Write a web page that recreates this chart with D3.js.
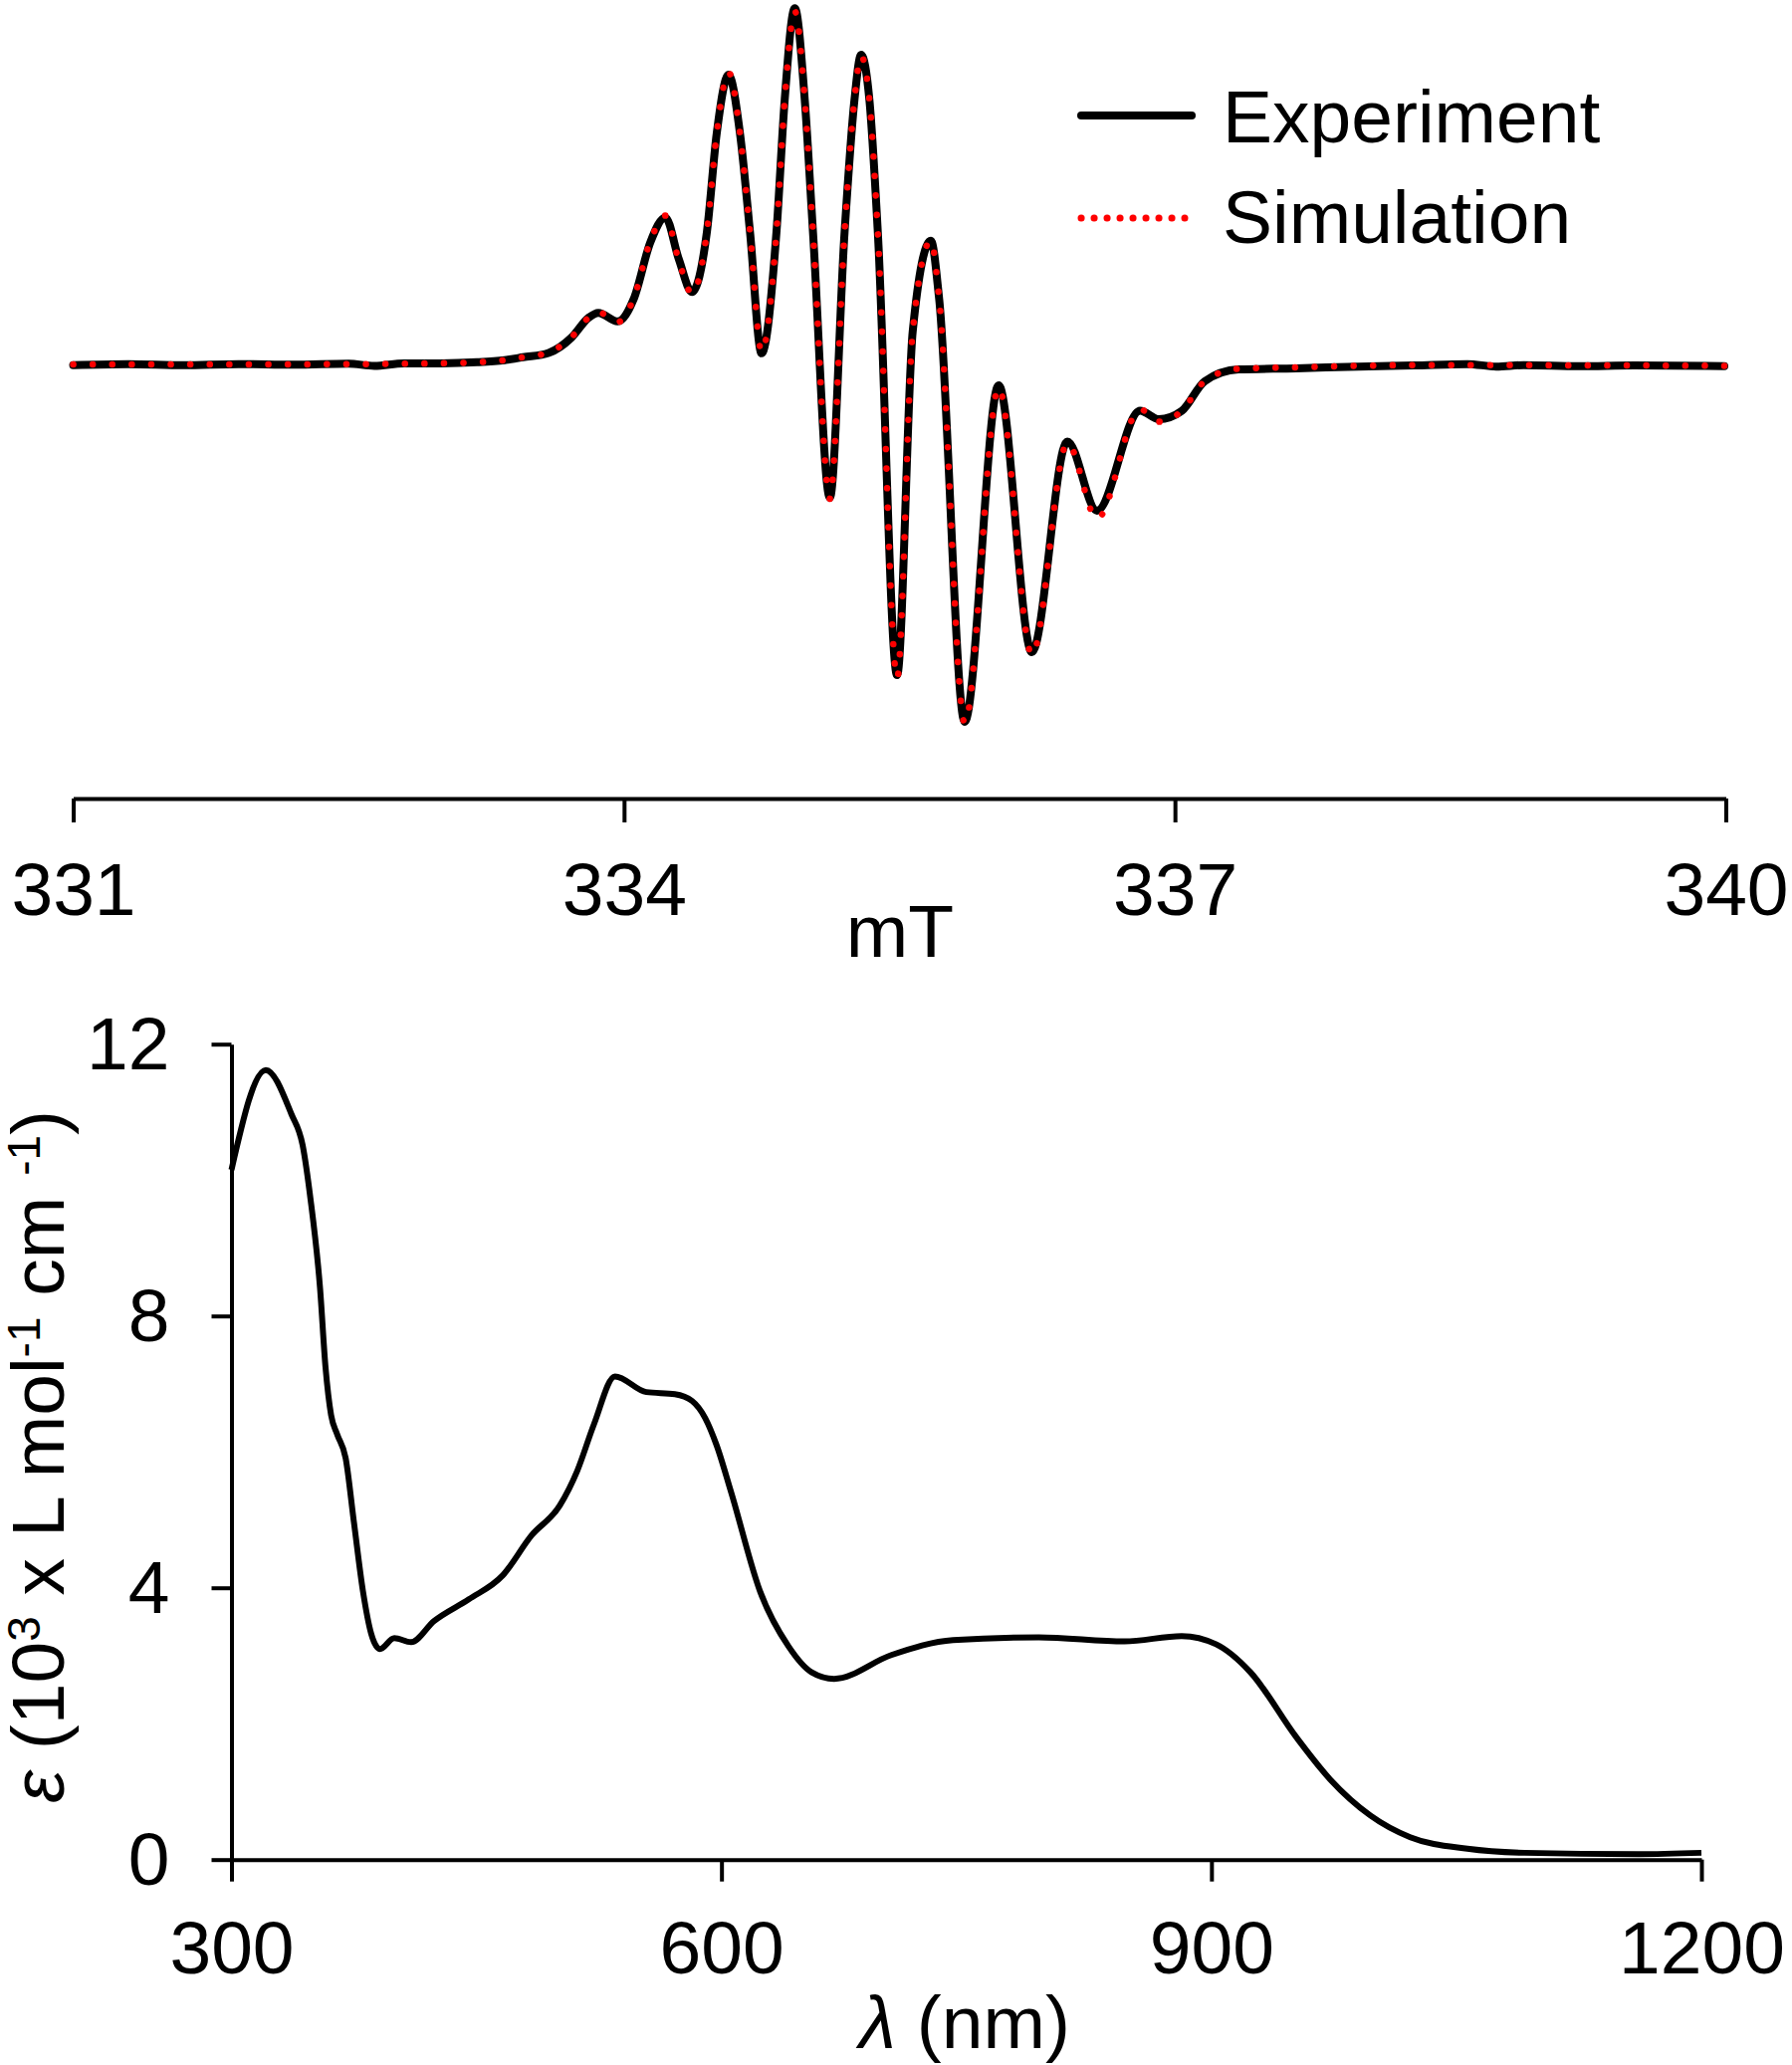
<!DOCTYPE html>
<html>
<head>
<meta charset="utf-8">
<script src="https://cdn.jsdelivr.net/npm/d3@7"></script>
<style>
  html, body { margin: 0; padding: 0; background: #fff; }
  svg { display: block; }
  text { font-family: "Liberation Sans", Arial, sans-serif; fill: #000; }
</style>
</head>
<body>
<svg id="chart" width="1800" height="2074"></svg>
<script>
// ---------- EPR data (mT, derivative signal, arbitrary units) ----------
const eprField = [331.00, 331.30, 331.60, 331.90, 332.20, 332.50, 332.64, 332.80, 333.00, 333.20,
  333.35, 333.45, 333.589, 333.714, 333.806, 333.860, 333.965, 334.053, 334.144, 334.225,
  334.298, 334.370, 334.451, 334.505, 334.569, 334.631, 334.686, 334.749, 334.830, 334.875,
  334.930, 334.984, 335.029, 335.121, 335.201, 335.255, 335.291, 335.336, 335.382, 335.487,
  335.572, 335.671, 335.716, 335.855, 336.040, 336.221, 336.414, 336.576, 336.810, 336.913,
  337.037, 337.162, 337.346, 337.661, 338.000, 338.300, 338.593, 338.750, 338.900, 339.200,
  339.500, 339.992];
const eprExperiment = [-0.2, 0.1, -0.2, 0.1, -0.1, 0.2, -0.4, 0.3, 0.3, 0.6,
  1.2, 2.0, 3.2, 7.5, 13.0, 14.4, 12.0, 18.3, 34.2, 41.0,
  29.4, 20.2, 36.9, 64.6, 80.8, 64.6, 36.9, 3.1, 36.9, 73.9,
  99.4, 73.9, 36.9, -37.2, 36.9, 73.9, 86.4, 73.9, 36.9, -86.7,
  9.2, 34.5, 18.3, -99.7, -5.8, -80.3, -21.5, -40.8, -12.9, -15.3,
  -13.0, -4.7, -1.4, -1.1, -0.6, -0.3, 0.1, -0.6, -0.2, -0.5,
  -0.3, -0.5];
const eprSimulation = [0.0, 0.0, 0.0, 0.0, 0.0, 0.1, 0.1, 0.2, 0.3, 0.6,
  1.2, 2.0, 3.3, 7.6, 13.0, 14.6, 11.8, 18.5, 34.5, 41.5,
  29.0, 19.8, 37.0, 64.6, 81.5, 64.6, 36.9, 3.5, 36.9, 73.9,
  98.5, 73.9, 36.9, -37.5, 36.9, 73.9, 86.0, 73.9, 36.9, -87.5,
  9.2, 34.5, 18.3, -100.0, -6.5, -81.0, -22.0, -43.0, -12.5, -16.0,
  -13.0, -4.7, -1.2, -0.8, -0.4, -0.2, -0.2, -0.2, -0.2, -0.3,
  -0.3, -0.4];
const eprTicks = [331, 334, 337, 340];
const eprSeries = ["Experiment", "Simulation"];

// ---------- UV-vis data ----------
const uvWavelength = [300, 321, 336.7, 343.6, 348.4, 354.2, 357.6, 361, 364.7, 369.9,
  375, 380.5, 385.6, 390.9, 399.7, 410, 424, 445.3, 466, 483.7,
  501, 511.7, 522, 534.8, 554, 571.5, 582, 590, 597, 606,
  623.6, 641, 655, 669, 704, 741.8, 794.3, 846.8, 881.8, 902.8,
  923.8, 951.7, 972.7, 997.3, 1021.7, 1056.7, 1091.7, 1161.6, 1200];
const uvEpsilon = [10.15, 11.62, 10.97, 10.51, 9.72, 8.42, 7.24, 6.54, 6.26, 5.91,
  4.96, 3.95, 3.32, 3.10, 3.26, 3.20, 3.51, 3.83, 4.18, 4.77,
  5.21, 5.72, 6.41, 7.11, 6.88, 6.85, 6.75, 6.50, 6.10, 5.40,
  3.95, 3.14, 2.76, 2.66, 3.01, 3.23, 3.27, 3.21, 3.29, 3.17,
  2.76, 1.81, 1.18, 0.65, 0.33, 0.16, 0.10, 0.08, 0.10];
const uvXTicks = [300, 600, 900, 1200];
const uvYTicks = [0, 4, 8, 12];

const svg = d3.select("#chart");
const FONT = 75;

// ================= Top chart: EPR =================
const xE = d3.scaleLinear().domain([331, 340]).range([73.5, 1733.5]);
const yE = d3.scaleLinear().domain([-100, 100]).range([726, 6]);
const lineE = d3.line().x(d => xE(d[0])).y(d => yE(d[1])).curve(d3.curveMonotoneX);

const expData = eprField.map((f, i) => [f, eprExperiment[i]]);
const simData = eprField.map((f, i) => [f, eprSimulation[i]]);

svg.append("path").datum(expData).attr("d", lineE)
  .attr("fill", "none").attr("stroke", "#000").attr("stroke-width", 8)
  .attr("stroke-linejoin", "round").attr("stroke-linecap", "round");
svg.append("path").datum(simData).attr("d", lineE)
  .attr("fill", "none").attr("stroke", "#ff0000").attr("stroke-width", 6.5)
  .attr("stroke-dasharray", "0.1 19.5").attr("stroke-linecap", "round");

const axE = svg.append("g").attr("transform", "translate(0,802)")
  .call(d3.axisBottom(xE).tickValues(eprTicks).tickSize(24).tickSizeOuter(0).tickFormat(d3.format("d")));
axE.select(".domain").attr("stroke", "#000").attr("stroke-width", 4);
axE.selectAll(".tick line").attr("stroke", "#000").attr("stroke-width", 4);
axE.selectAll(".tick text").attr("y", 117).attr("dy", 0)
  .style("font-size", FONT + "px").style("font-family", "'Liberation Sans', Arial, sans-serif").attr("fill", "#000");

svg.append("text").attr("x", 904).attr("y", 961).attr("text-anchor", "middle")
  .style("font-size", FONT + "px").text("mT");

// legend
const leg = svg.append("g");
leg.append("line").attr("x1", 1086).attr("x2", 1197).attr("y1", 116).attr("y2", 116)
  .attr("stroke", "#000").attr("stroke-width", 8).attr("stroke-linecap", "round");
leg.append("line").attr("x1", 1086).attr("x2", 1190).attr("y1", 219).attr("y2", 219)
  .attr("stroke", "#ff0000").attr("stroke-width", 7).attr("stroke-linecap", "round")
  .attr("stroke-dasharray", "0.1 12.9");
leg.append("text").attr("x", 1228).attr("y", 143).style("font-size", FONT + "px").text(eprSeries[0]);
leg.append("text").attr("x", 1228).attr("y", 244).style("font-size", FONT + "px").text(eprSeries[1]);

// ================= Bottom chart: UV-vis =================
const xU = d3.scaleLinear().domain([300, 1200]).range([232.5, 1709]);
const yU = d3.scaleLinear().domain([0, 12]).range([1867.7, 1048.7]);
const lineU = d3.line().x(d => xU(d[0])).y(d => yU(d[1])).curve(d3.curveMonotoneX);
const uvData = uvWavelength.map((w, i) => [w, uvEpsilon[i]]);

const axY = svg.append("g").attr("transform", "translate(232.5,0)")
  .call(d3.axisLeft(yU).tickValues(uvYTicks).tickSize(20).tickSizeOuter(0).tickFormat(d3.format("d")));
const axX = svg.append("g").attr("transform", "translate(0,1867.7)")
  .call(d3.axisBottom(xU).tickValues(uvXTicks).tickSize(22).tickSizeOuter(0).tickFormat(d3.format("d")));
[axY, axX].forEach(a => {
  a.select(".domain").attr("stroke", "#000").attr("stroke-width", 4);
  a.selectAll(".tick line").attr("stroke", "#000").attr("stroke-width", 4);
  a.selectAll(".tick text").style("font-size", FONT + "px")
    .style("font-family", "'Liberation Sans', Arial, sans-serif").attr("fill", "#000");
});
axY.selectAll(".tick text").attr("x", -62).attr("dy", "0.33em");
axX.selectAll(".tick text").attr("y", 114.3).attr("dy", 0);

svg.append("path").datum(uvData).attr("d", lineU)
  .attr("fill", "none").attr("stroke", "#000").attr("stroke-width", 6)
  .attr("stroke-linejoin", "round");

// y axis title
const yt = svg.append("text").attr("transform", "translate(64,1463) rotate(-90)")
  .attr("text-anchor", "middle").style("font-size", FONT + "px");
yt.append("tspan").style("font-style", "italic").text("ε");
yt.append("tspan").text(" (10");
yt.append("tspan").attr("dy", -24).style("font-size", "46px").text("3");
yt.append("tspan").attr("dy", 24).text(" x L mol");
yt.append("tspan").attr("dy", -24).style("font-size", "46px").text("-1");
yt.append("tspan").attr("dy", 24).text(" cm ");
yt.append("tspan").attr("dy", -24).style("font-size", "46px").text("-1");
yt.append("tspan").attr("dy", 24).text(")");

// x axis title
const xt = svg.append("text").attr("x", 969).attr("y", 2057).attr("text-anchor", "middle")
  .style("font-size", FONT + "px");
xt.append("tspan").style("font-style", "italic").text("λ");
xt.append("tspan").text(" (nm)");
</script>
</body>
</html>
